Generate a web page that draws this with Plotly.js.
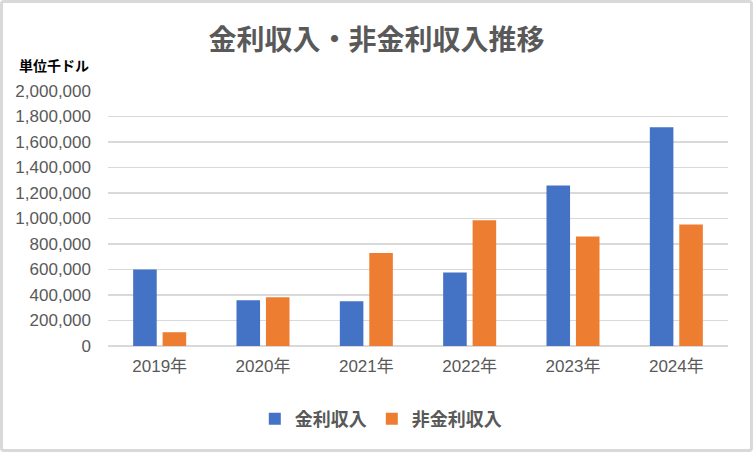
<!DOCTYPE html>
<html>
<head>
<meta charset="utf-8">
<script src="https://cdn.plot.ly/plotly-3.0.1.min.js"></script>
<style>
  html, body { margin: 0; padding: 0; background: #fff; }
  #wrap { position: relative; width: 753px; height: 452px; }
  #chart { width: 753px; height: 452px; }
  #frame { position: absolute; left: 0; top: 0; width: 753px; height: 452px; box-sizing: border-box;
           border: 3px solid #d9d9d9; border-radius: 4px; pointer-events: none; }
</style>
</head>
<body>
<div id="wrap">
  <div id="chart"></div>
  <div id="frame"></div>
</div>
<script>
const categories = ["2019年", "2020年", "2021年", "2022年", "2023年", "2024年"];
const interestIncome = [600000, 358000, 351000, 576000, 1258000, 1715000];
const nonInterestIncome = [108000, 382000, 729000, 986000, 858000, 952000];
const seriesNames = ["金利収入", "非金利収入"];
const yTickVals = [0, 200000, 400000, 600000, 800000, 1000000, 1200000, 1400000, 1600000, 1800000, 2000000];
const yTickText = ["0", "200,000", "400,000", "600,000", "800,000", "1,000,000", "1,200,000", "1,400,000", "1,600,000", "1,800,000", "2,000,000"];

const FONT = '"Liberation Sans", "Noto Sans CJK JP", sans-serif';
const CJK = '"Noto Sans CJK JP", "Liberation Sans", sans-serif';
const GRAY = '#595959';

const data = [
  { type: 'bar', name: seriesNames[0], x: categories, y: interestIncome,
    marker: { color: '#4472C4' }, hoverinfo: 'x+y' },
  { type: 'bar', name: seriesNames[1], x: categories, y: nonInterestIncome,
    marker: { color: '#ED7D31' }, hoverinfo: 'x+y' }
];

const layout = {
  width: 753, height: 452,
  margin: { l: 108, r: 25, t: 91, b: 106 },
  paper_bgcolor: '#ffffff', plot_bgcolor: '#ffffff',
  barmode: 'group', bargap: 0.43, bargroupgap: 0.2,
  title: { text: '金利収入・非金利収入推移', x: 0.5, xref: 'container', xanchor: 'center',
           y: 0.912, yref: 'container', yanchor: 'middle',
           font: { family: CJK, size: 28, color: GRAY, weight: 'bold' } },
  xaxis: { type: 'category', showgrid: false, zeroline: false, showline: false,
           ticks: '', tickfont: { family: FONT, size: 17, color: GRAY }, ticklabelstandoff: 8 },
  yaxis: { range: [0, 2000000], tickvals: yTickVals, ticktext: yTickText,
           showgrid: true, gridcolor: '#d9d9d9', gridwidth: 1.5,
           zeroline: true, zerolinecolor: '#d9d9d9', zerolinewidth: 1.5,
           showline: false, ticks: '', ticklabelstandoff: 16,
           tickfont: { family: FONT, size: 17, color: GRAY } },
  legend: { orientation: 'h', x: 0.44, xanchor: 'center', y: -0.286, yanchor: 'middle',
            font: { family: CJK, size: 18, color: GRAY, weight: 'bold' }, itemwidth: 30, traceorder: 'normal' },
  annotations: [
    { text: '<b>単位千ドル</b>', xref: 'paper', yref: 'paper', x: -0.1468, y: 1.102,
      xanchor: 'left', yanchor: 'middle', showarrow: false,
      font: { family: CJK, size: 14, color: '#000000' } }
  ]
};

Plotly.newPlot('chart', data, layout, { displayModeBar: false, staticPlot: true });
</script>
</body>
</html>
